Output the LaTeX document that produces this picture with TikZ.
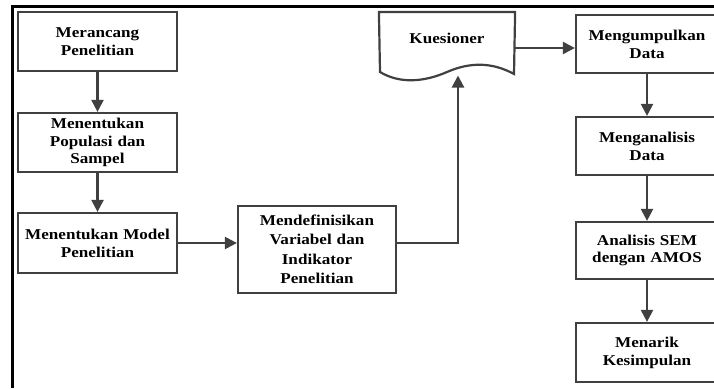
\documentclass[tikz,border=0pt]{standalone}
\usepackage{fontspec}
\setmainfont{Liberation Serif}[FakeStretch=1.14]
\usetikzlibrary{arrows.meta}
\definecolor{ln}{HTML}{404040}
\tikzset{
  box/.style={draw=ln, line width=2.2pt, fill=white, rectangle, inner sep=2pt,
    align=center, font=\fontsize{15}{17.8}\selectfont\bfseries},
  arr/.style={draw=ln, line width=2.2pt, -{Triangle[length=12pt,width=12pt]}},
  conn/.style={draw=ln, line width=2.2pt},
  frame/.style={draw=black, line width=3pt}
}
\begin{document}
\begin{tikzpicture}[x=1pt,y=-1pt]
\useasboundingbox (0,0) rectangle (714,388);
\clip (0,0) rectangle (714,388);
\draw[frame] (12.5,388) -- (12.5,6) -- (714,6);

\node[box, minimum width=159pt, minimum height=59pt, text width=155pt] (b1) at (97.5,41.5) {Merancang\\Penelitian};
\node[box, minimum width=159pt, minimum height=59pt, text width=155pt] (b2) at (97.5,142.5) {Menentukan\\Populasi dan\\Sampel};
\node[box, minimum width=159pt, minimum height=60pt, text width=155pt] (b3) at (97.5,243) {Menentukan Model\\Penelitian};
\node[box, minimum width=158pt, minimum height=87pt, text width=154pt, font=\fontsize{15}{19.5}\selectfont\bfseries] (b4) at (317,249.5) {Mendefinisikan\\Variabel dan\\Indikator\\Penelitian};

\node[box, draw=none, fill=none, minimum width=134pt, minimum height=61pt, inner sep=0pt, text height=10pt, text depth=10pt] (kues) at (447,43.5) {Kuesioner};
\draw[draw=ln, line width=2.2pt, line join=miter]
  (kues.north west) -- (kues.north east) -- (514,74)
  .. controls (492,62) and (470,62) .. (447,72)
  .. controls (424,82) and (400,84) .. (380,72) -- cycle;
\coordinate (kin) at (458,75.5);

\node[box, minimum width=142pt, minimum height=58pt, text width=138pt] (m1) at (647,44) {Mengumpulkan\\Data};
\node[box, minimum width=142pt, minimum height=58pt, text width=138pt] (m2) at (647,146) {Menganalisis\\Data};
\node[box, minimum width=142pt, minimum height=57pt, text width=138pt] (m3) at (647,250.5) {Analisis SEM\\dengan AMOS};
\node[box, minimum width=142pt, minimum height=59pt, text width=138pt] (m4) at (647,352.5) {Menarik\\Kesimpulan};

\draw[arr] (b1) -- (b2);
\draw[arr] (b2) -- (b3);
\draw[arr] (b3.east) -- (b3.east -| b4.west);
\draw[arr] (b3.east -| b4.east) -| (kin);
\draw[arr] (kues.east |- 0,48) -- (m1.west |- 0,48);
\draw[arr] (m1) -- (m2);
\draw[arr] (m2) -- (m3);
\draw[arr] (m3) -- (m4);
\end{tikzpicture}
\end{document}
